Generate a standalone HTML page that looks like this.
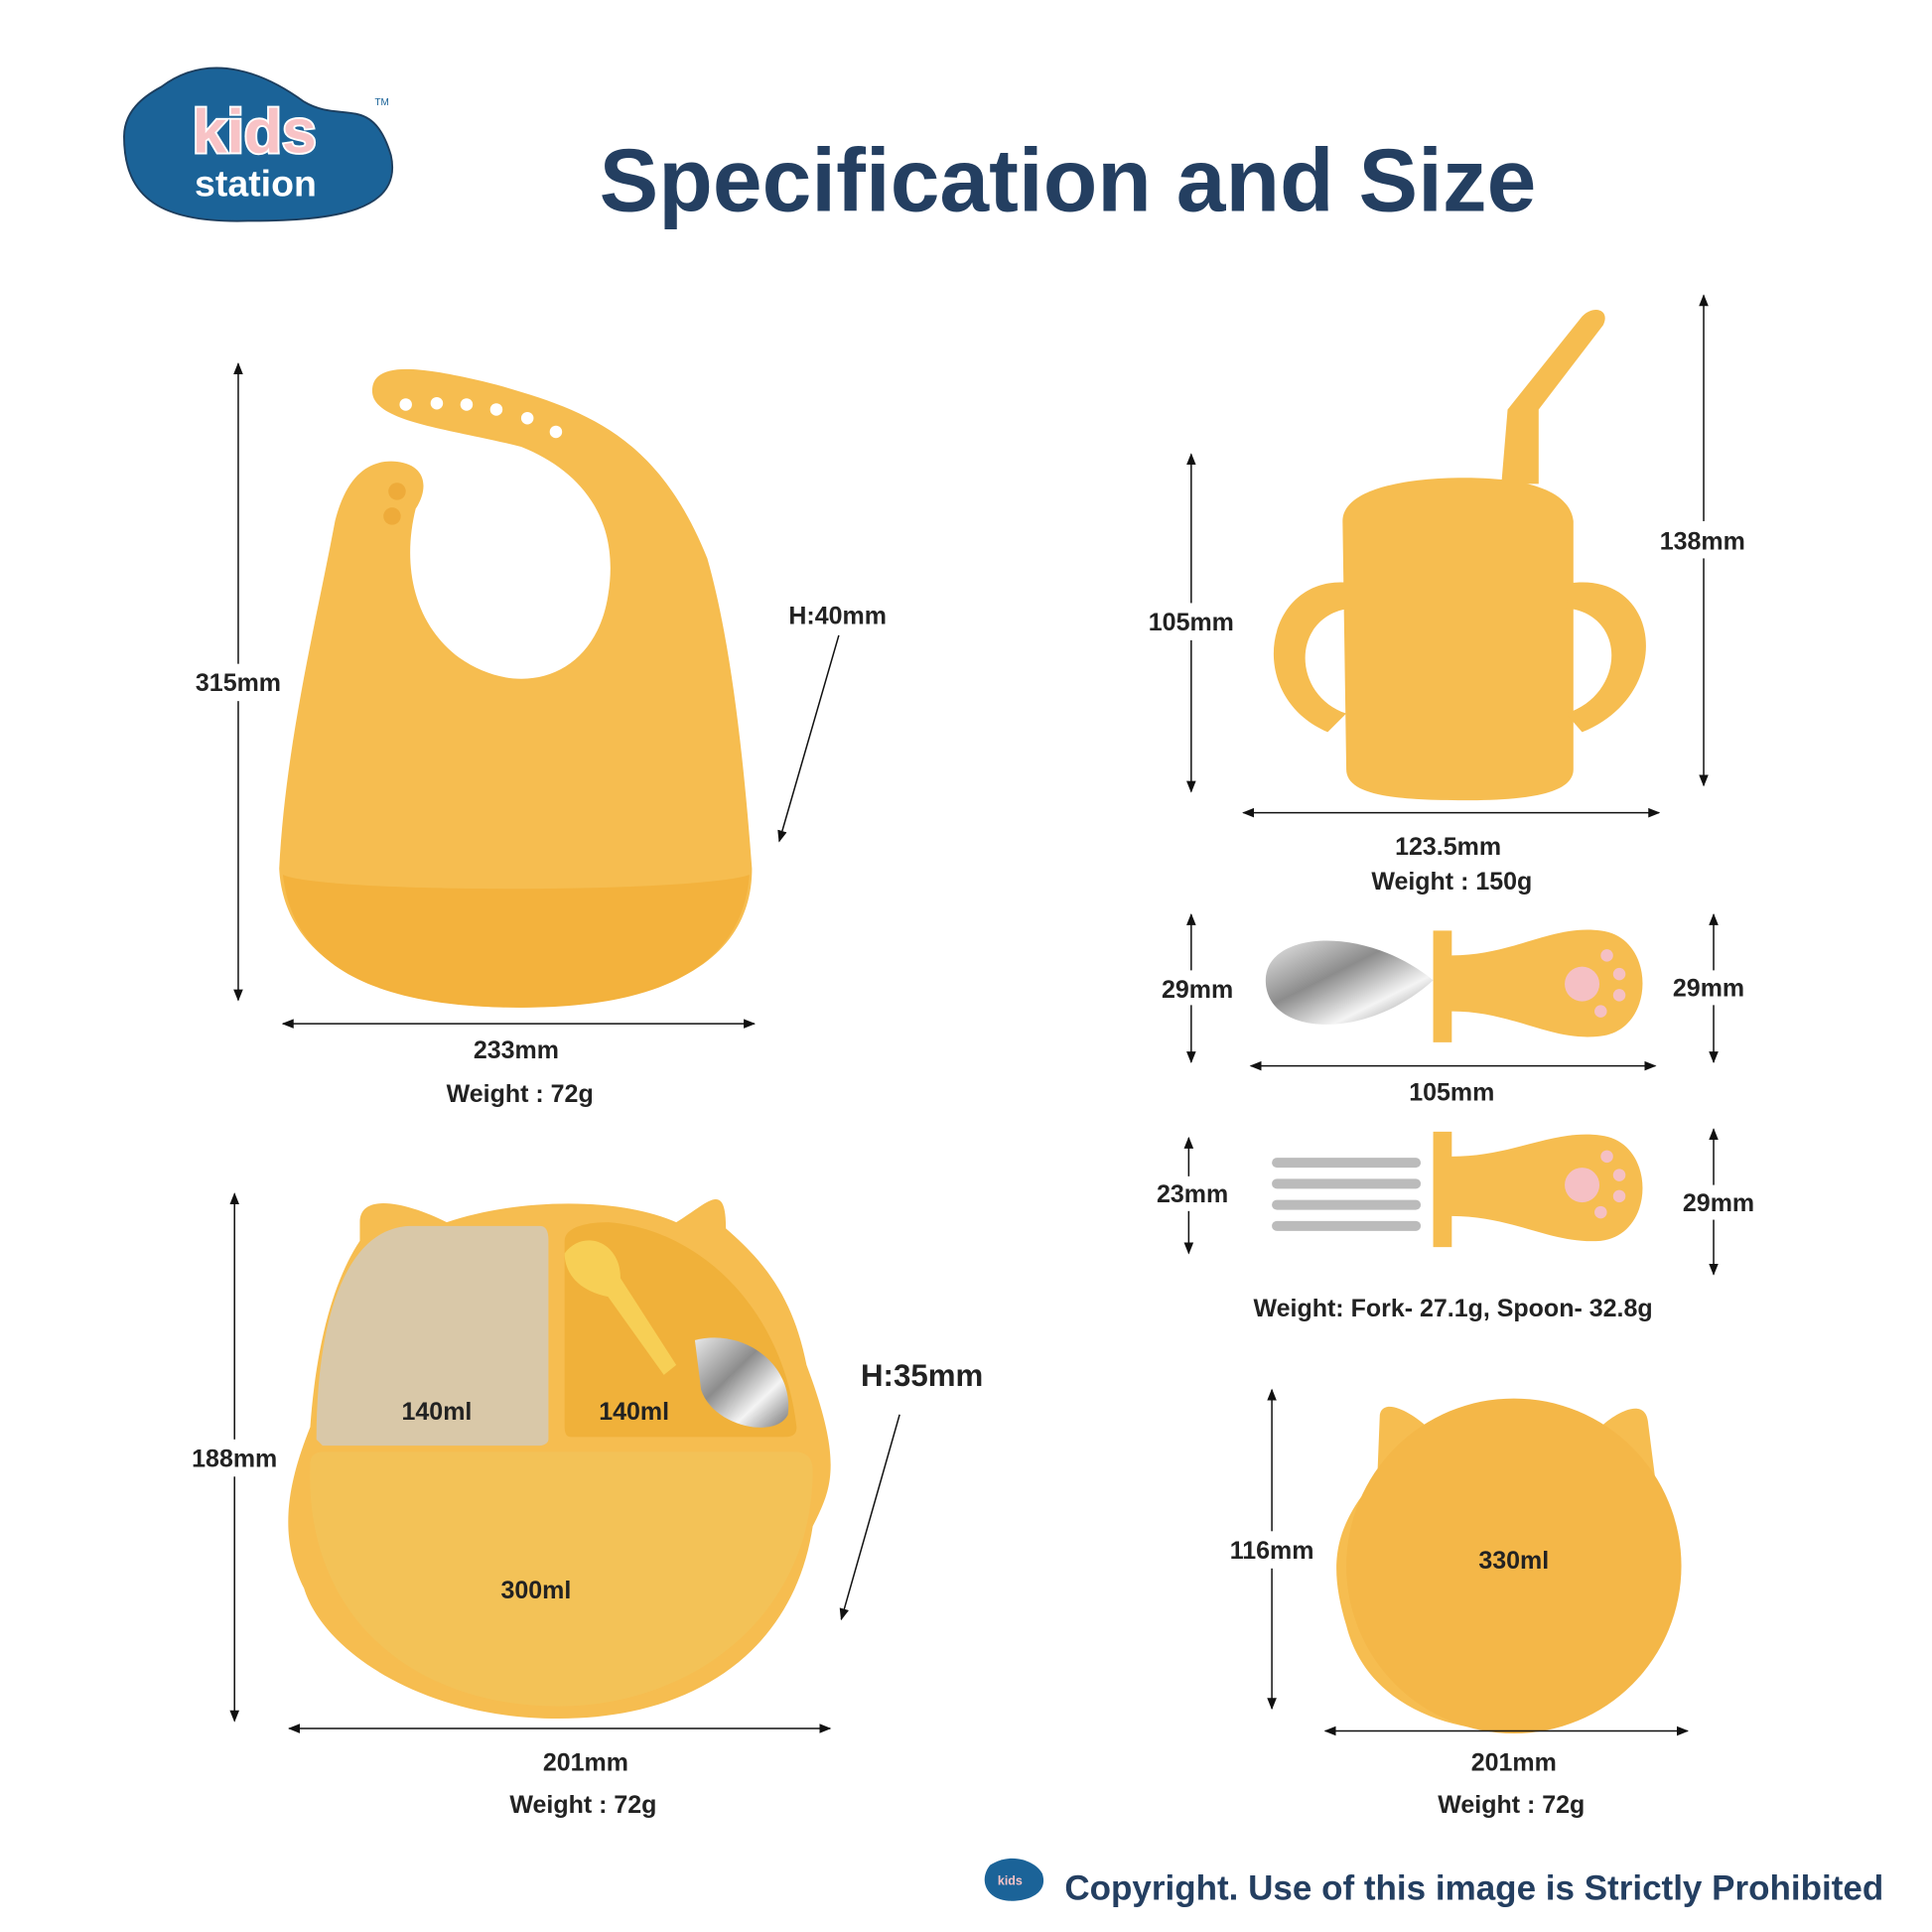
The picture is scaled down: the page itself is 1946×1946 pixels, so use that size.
<!DOCTYPE html>
<html><head><meta charset="utf-8"><style>html,body{margin:0;padding:0;background:#fff}svg{display:block}text{font-family:"Liberation Sans",sans-serif}</style></head>
<body>
<svg width="1946" height="1946" viewBox="0 0 1557 1557" xmlns="http://www.w3.org/2000/svg">
<defs>
<marker id="a" viewBox="0 0 10 10" refX="9" refY="5" markerWidth="8" markerHeight="8" orient="auto-start-reverse"><path d="M0,1 L10,5 L0,9 z" fill="#111"/></marker>
<linearGradient id="steel" x1="0" y1="0" x2="1" y2="1"><stop offset="0" stop-color="#e8e8e8"/><stop offset=".4" stop-color="#8c8c8c"/><stop offset=".7" stop-color="#f4f4f4"/><stop offset="1" stop-color="#777"/></linearGradient>
</defs>
<!-- logo -->
<path d="M130,70 C170,40 215,60 245,82 C275,100 300,75 315,125 C325,170 270,178 200,178 C130,180 100,160 100,110 C100,90 115,78 130,70 z" fill="#1b6398" stroke="#1d3e5e" stroke-width="1.5"/>
<text x="205" y="123" font-size="50" font-weight="bold" fill="#f8c3c6" stroke="#fff" stroke-width="3" paint-order="stroke" text-anchor="middle">kids</text>
<text x="206" y="158" font-size="30" font-weight="bold" fill="#fff" text-anchor="middle">station</text>
<text x="302" y="85" font-size="8" fill="#1b6398">TM</text>
<text x="483" y="170" font-size="72" font-weight="bold" fill="#243f61" textLength="755" lengthAdjust="spacingAndGlyphs">Specification and Size</text>

<g fill="#f6bd50">
<!-- bib -->
<path d="M300,315 C300,290 340,295 400,310 C470,330 530,350 570,450 C590,520 600,620 606,700 C606,760 560,810 420,812 C280,812 228,760 225,700 C230,600 255,500 270,420 C280,380 300,370 320,372 C345,375 345,395 335,410 C325,450 330,500 370,530 C420,565 480,545 490,480 C500,420 470,380 420,360 C360,345 300,340 300,315 z"/>
<path d="M228,705 C260,720 560,720 604,705 C600,760 560,812 420,812 C280,812 235,765 228,705 z" fill="#f3b23d"/>
<!-- cup -->
<path d="M1082,420 C1082,395 1130,385 1180,385 C1230,385 1265,395 1268,420 L1268,620 C1268,640 1230,645 1180,645 C1120,645 1085,640 1085,620 z"/>
<path d="M1210,390 L1215,330 L1275,255 C1285,245 1298,250 1292,262 L1240,330 L1240,390 z"/>
<path d="M1090,470 C1020,460 1000,560 1070,590 L1085,575 C1040,560 1040,495 1090,490 z"/>
<path d="M1265,470 C1340,460 1350,560 1275,590 L1262,575 C1310,560 1312,495 1262,490 z"/>
<!-- spoon/fork handles -->
<path d="M1155,750 L1170,750 L1170,770 C1220,770 1250,745 1290,750 C1335,755 1335,830 1290,835 C1250,840 1220,815 1170,815 L1170,840 L1155,840 z"/>
<path d="M1155,912 L1170,912 L1170,932 C1220,932 1250,910 1290,915 C1335,920 1335,995 1290,1000 C1250,1003 1220,980 1170,980 L1170,1005 L1155,1005 z"/>
<!-- plate -->
<path d="M290,985 C290,960 330,970 360,985 C420,965 500,965 545,985 C570,970 585,950 585,990 C620,1020 640,1050 650,1100 C680,1180 670,1200 655,1230 C640,1330 560,1385 450,1385 C340,1385 260,1330 245,1280 C225,1240 230,1200 250,1150 C255,1080 270,1030 290,1000 z"/>
<!-- bowl -->
<path d="M1112,1140 C1115,1125 1140,1140 1150,1150 C1200,1128 1250,1130 1290,1150 C1300,1140 1325,1125 1328,1145 L1335,1200 C1360,1240 1350,1290 1340,1310 C1320,1370 1270,1395 1220,1395 C1160,1395 1100,1370 1085,1310 C1070,1260 1075,1230 1110,1190 z"/>
</g>
<g fill="#fff"><circle cx="327" cy="326" r="5"/><circle cx="352" cy="325" r="5"/><circle cx="376" cy="326" r="5"/><circle cx="400" cy="330" r="5"/><circle cx="425" cy="337" r="5"/><circle cx="448" cy="348" r="5"/></g>
<circle cx="320" cy="396" r="7" fill="#eeab3a"/><circle cx="316" cy="416" r="7" fill="#eeab3a"/>
<!-- paws -->
<circle cx="1275" cy="793" r="14" fill="#f5c0c4"/><circle cx="1295" cy="770" r="5" fill="#f5c0c4"/><circle cx="1305" cy="785" r="5" fill="#f5c0c4"/><circle cx="1305" cy="802" r="5" fill="#f5c0c4"/><circle cx="1290" cy="815" r="5" fill="#f5c0c4"/>
<circle cx="1275" cy="955" r="14" fill="#f5c0c4"/><circle cx="1295" cy="932" r="5" fill="#f5c0c4"/><circle cx="1305" cy="947" r="5" fill="#f5c0c4"/><circle cx="1305" cy="964" r="5" fill="#f5c0c4"/><circle cx="1290" cy="977" r="5" fill="#f5c0c4"/>
<!-- spoon head / fork -->
<path d="M1020,790 C1020,750 1100,745 1155,790 C1100,840 1020,835 1020,790 z" fill="url(#steel)"/>
<g fill="#bbb"><rect x="1025" y="933" width="120" height="8" rx="4"/><rect x="1025" y="950" width="120" height="8" rx="4"/><rect x="1025" y="967" width="120" height="8" rx="4"/><rect x="1025" y="984" width="120" height="8" rx="4"/></g>
<!-- plate compartments -->
<path d="M255,1160 C255,1060 280,990 330,988 L435,988 C440,988 442,992 442,1000 L442,1160 C442,1163 438,1165 435,1165 L260,1165 z" fill="#d9c8a8"/>
<path d="M455,1000 C455,990 470,985 490,985 C560,990 630,1050 642,1150 C642,1158 636,1158 630,1158 L460,1158 C455,1158 455,1152 455,1148 z" fill="#f0b13a"/>
<path d="M250,1180 C250,1172 255,1170 262,1170 L640,1170 C650,1170 655,1175 655,1185 C655,1300 560,1375 450,1375 C330,1375 245,1300 250,1180 z" fill="#f3c257"/>
<path d="M560,1080 C600,1070 640,1100 635,1140 C625,1160 575,1150 565,1120 z" fill="url(#steel)"/>
<path d="M455,1010 C470,990 500,1000 500,1030 L545,1100 L535,1108 L490,1045 C465,1040 455,1025 455,1010 z" fill="#f7cf55"/>
<circle cx="1220" cy="1262" r="135" fill="#f4b748"/>
<!-- dims -->
<g stroke="#111" stroke-width="1.2" fill="none">
<line x1="192" y1="293" x2="192" y2="806" marker-start="url(#a)" marker-end="url(#a)"/>
<line x1="228" y1="825" x2="608" y2="825" marker-start="url(#a)" marker-end="url(#a)"/>
<line x1="676" y1="512" x2="628" y2="678" marker-end="url(#a)"/>
<line x1="960" y1="366" x2="960" y2="638" marker-start="url(#a)" marker-end="url(#a)"/>
<line x1="1373" y1="238" x2="1373" y2="633" marker-start="url(#a)" marker-end="url(#a)"/>
<line x1="1002" y1="655" x2="1337" y2="655" marker-start="url(#a)" marker-end="url(#a)"/>
<line x1="960" y1="737" x2="960" y2="856" marker-start="url(#a)" marker-end="url(#a)"/>
<line x1="1381" y1="737" x2="1381" y2="856" marker-start="url(#a)" marker-end="url(#a)"/>
<line x1="1008" y1="859" x2="1334" y2="859" marker-start="url(#a)" marker-end="url(#a)"/>
<line x1="958" y1="917" x2="958" y2="1010" marker-start="url(#a)" marker-end="url(#a)"/>
<line x1="1381" y1="910" x2="1381" y2="1027" marker-start="url(#a)" marker-end="url(#a)"/>
<line x1="189" y1="962" x2="189" y2="1387" marker-start="url(#a)" marker-end="url(#a)"/>
<line x1="233" y1="1393" x2="669" y2="1393" marker-start="url(#a)" marker-end="url(#a)"/>
<line x1="725" y1="1140" x2="678" y2="1305" marker-end="url(#a)"/>
<line x1="1025" y1="1120" x2="1025" y2="1377" marker-start="url(#a)" marker-end="url(#a)"/>
<line x1="1068" y1="1395" x2="1360" y2="1395" marker-start="url(#a)" marker-end="url(#a)"/>
</g>
<g font-size="20" font-weight="bold" fill="#222" text-anchor="middle">
<rect x="150" y="535" width="84" height="30" fill="#fff"/>
<text x="192" y="557">315mm</text>
<text x="416" y="853">233mm</text>
<text x="419" y="888">Weight : 72g</text>
<text x="675" y="503">H:40mm</text>
<rect x="918" y="486" width="84" height="30" fill="#fff"/>
<text x="960" y="508">105mm</text>
<rect x="1330" y="420" width="86" height="30" fill="#fff"/>
<text x="1372" y="443">138mm</text>
<text x="1167" y="689">123.5mm</text>
<text x="1170" y="717">Weight : 150g</text>
<rect x="930" y="782" width="70" height="28" fill="#fff"/>
<text x="965" y="804">29mm</text>
<rect x="1342" y="782" width="70" height="28" fill="#fff"/>
<text x="1377" y="803">29mm</text>
<text x="1170" y="887">105mm</text>
<rect x="926" y="948" width="70" height="28" fill="#fff"/>
<text x="961" y="969">23mm</text>
<rect x="1350" y="955" width="70" height="28" fill="#fff"/>
<text x="1385" y="976">29mm</text>
<text x="1171" y="1061">Weight: Fork- 27.1g, Spoon- 32.8g</text>
<rect x="148" y="1160" width="80" height="30" fill="#fff"/>
<text x="189" y="1182">188mm</text>
<text x="352" y="1144">140ml</text>
<text x="511" y="1144">140ml</text>
<text x="432" y="1288">300ml</text>
<text x="472" y="1427">201mm</text>
<text x="470" y="1461">Weight : 72g</text>
<text x="743" y="1117" font-size="25">H:35mm</text>
<rect x="985" y="1234" width="80" height="30" fill="#fff"/>
<text x="1025" y="1256">116mm</text>
<text x="1220" y="1264">330ml</text>
<text x="1220" y="1427">201mm</text>
<text x="1218" y="1461">Weight : 72g</text>
</g>
<path d="M798,1503 C815,1492 835,1500 840,1510 C845,1525 830,1532 815,1532 C795,1532 788,1515 798,1503 z" fill="#1b6398"/>
<text x="814" y="1519" font-size="10" font-weight="bold" fill="#f8c3c6" text-anchor="middle">kids</text>
<text x="858" y="1531" font-size="28" font-weight="bold" fill="#243f61" textLength="660" lengthAdjust="spacingAndGlyphs">Copyright. Use of this image is Strictly Prohibited</text>
</svg>
</body></html>
